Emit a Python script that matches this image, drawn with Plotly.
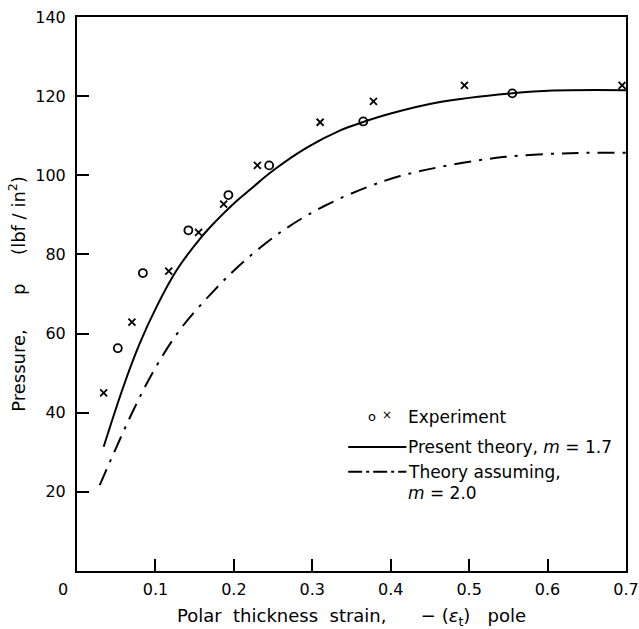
import plotly.graph_objects as go

# Experimental data (circles)
circ_x = [0.052, 0.084, 0.142, 0.193, 0.245, 0.365, 0.555]
circ_y = [56.3, 75.3, 86.1, 95.0, 102.5, 113.6, 120.7]
# Experimental data (crosses)
cross_x = [0.034, 0.070, 0.117, 0.155, 0.187, 0.230, 0.310, 0.378, 0.494, 0.695]
cross_y = [45.0, 62.9, 75.8, 85.6, 92.7, 102.5, 113.4, 118.7, 122.7, 122.7]
# Present theory, m = 1.7
pres_x = [0.034, 0.059, 0.080, 0.102, 0.127, 0.157, 0.178, 0.199, 0.222, 0.250, 0.293, 0.335,
          0.364, 0.400, 0.463, 0.555, 0.607, 0.700]
pres_y = [31.4, 46.5, 57.5, 67.0, 76.0, 84.0, 88.6, 92.7, 96.6, 101.2, 107.0, 111.3,
          113.4, 115.6, 118.5, 120.7, 121.4, 121.5]
# Theory assuming m = 2.0
theo_x = [0.029, 0.072, 0.099, 0.131, 0.172, 0.212, 0.263, 0.316, 0.370, 0.412, 0.463, 0.543,
          0.629, 0.700]
theo_y = [21.7, 40.7, 51.0, 60.9, 70.3, 78.1, 86.1, 92.3, 97.0, 99.8, 102.1, 104.6,
          105.6, 105.7]

x_ticks = [0.1, 0.2, 0.3, 0.4, 0.5, 0.6, 0.7]
x_ticktext = ["0.1", "0.2", "0.3", "0.4", "0.5", "0.6", "0.7"]
y_ticks = [20, 40, 60, 80, 100, 120, 140]
y_ticktext = ["20", "40", "60", "80", "100", "120", "140"]

FONT = "DejaVu Sans"
fig = go.Figure()
fig.add_trace(go.Scatter(x=pres_x, y=pres_y, mode="lines",
                         line=dict(color="black", width=2, shape="spline", smoothing=1.0)))
fig.add_trace(go.Scatter(x=theo_x, y=theo_y, mode="lines",
                         line=dict(color="black", width=2, shape="spline", smoothing=1.0,
                                   dash="17px,8px,3px,8px")))
fig.add_trace(go.Scatter(x=circ_x, y=circ_y, mode="markers",
                         marker=dict(symbol="circle-open", size=8, color="black", line=dict(width=1.8))))
fig.add_trace(go.Scatter(x=cross_x, y=cross_y, mode="markers",
                         marker=dict(symbol="x-thin-open", size=7, color="black", line=dict(width=1.8))))

axis_common = dict(showline=True, linecolor="black", linewidth=2, mirror=True, showgrid=False,
                   zeroline=False, ticks="inside", ticklen=12, tickwidth=1.5, tickcolor="black",
                   automargin=False,
                   tickfont=dict(family=FONT, size=16, color="black"))
fig.update_xaxes(range=[0, 0.7], tickvals=x_ticks, ticktext=x_ticktext, ticklabelstandoff=3,
                 title=dict(text="Polar  thickness  strain,      − (<i>ε</i><sub>t</sub>)   pole",
                            font=dict(family=FONT, size=18, color="black"), standoff=15),
                 **axis_common)
fig.update_yaxes(range=[0, 140], tickvals=y_ticks, ticktext=y_ticktext, ticklabelstandoff=6,
                 title=dict(text="Pressure,      p     (lbf / in<sup>2</sup>)",
                            font=dict(family=FONT, size=18, color="black"), standoff=5),
                 **axis_common)

# origin label
fig.add_annotation(x=0, y=0, xref="x", yref="y", text="0", showarrow=False, xshift=-14, yshift=-18,
                   font=dict(family=FONT, size=16, color="black"))

# legend (drawn manually)
lf = dict(family=FONT, size=17, color="black")
fig.add_annotation(xref="paper", yref="paper", x=0.537, y=0.278, yanchor="middle", text="o",
                   showarrow=False, font=dict(family=FONT, size=13, color="black"))
fig.add_annotation(xref="paper", yref="paper", x=0.564, y=0.282, yanchor="middle", text="×",
                   showarrow=False, font=dict(family=FONT, size=12, color="black"))
fig.add_annotation(xref="paper", yref="paper", x=0.600, y=0.278, xanchor="left", yanchor="middle",
                   text="Experiment", showarrow=False, font=lf)
fig.add_annotation(xref="paper", yref="paper", x=0.600, y=0.224, xanchor="left", yanchor="middle",
                   text="Present theory, <i>m</i> = 1.7", showarrow=False, font=lf)
fig.add_annotation(xref="paper", yref="paper", x=0.600, y=0.179, xanchor="left", yanchor="middle",
                   text="Theory assuming,", showarrow=False, font=lf)
fig.add_annotation(xref="paper", yref="paper", x=0.600, y=0.141, xanchor="left", yanchor="middle",
                   text="<i>m</i> = 2.0", showarrow=False, font=lf)
fig.add_shape(type="line", xref="paper", yref="paper", x0=0.494, x1=0.600, y0=0.224, y1=0.224,
              line=dict(color="black", width=2))
fig.add_shape(type="line", xref="paper", yref="paper", x0=0.494, x1=0.600, y0=0.179, y1=0.179,
              line=dict(color="black", width=2, dash="14px,4px,3px,4px"))

fig.update_layout(width=639, height=629, margin=dict(l=77, r=13, t=17, b=58),
                  paper_bgcolor="white", plot_bgcolor="white", showlegend=False,
                  font=dict(family=FONT, color="black"))
fig.write_html("out.html", config={"displayModeBar": False},
               post_script="document.body.style.margin='0';document.body.style.overflow='hidden';")
